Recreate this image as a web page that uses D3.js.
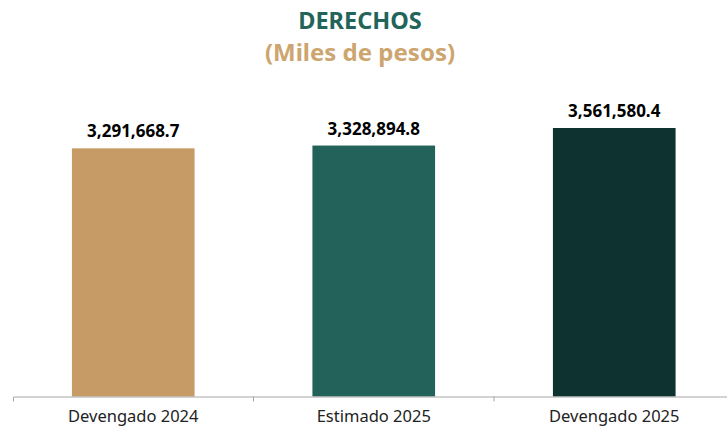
<!DOCTYPE html>
<html>
<head>
<meta charset="utf-8">
<script src="https://cdn.jsdelivr.net/npm/d3@7"></script>
<style>
  body { margin: 0; background: #fff; }
  svg { display: block; font-family: 'Noto Sans', sans-serif; }
</style>
</head>
<body>
<script>
// data
let categories = ['Devengado 2024', 'Estimado 2025', 'Devengado 2025'];
let values = [3291668.7, 3328894.8, 3561580.4];
let colors = ['#C69B65', '#22625A', '#0D3230'];

let width = 727, height = 429;
let baseline = 396.5;

let svg = d3.select('body').append('svg')
    .attr('width', width)
    .attr('height', height);

// scales
let x = d3.scaleBand()
    .domain(categories)
    .range([13, 734.5])
    .paddingInner(0.49)
    .paddingOuter(0.245);

let y = d3.scaleLinear()
    .domain([0, 3561580.4])
    .range([baseline, 128]);

let fmt = d3.format(',.1f');

// title
svg.append('text')
    .attr('x', 360).attr('y', 28.5)
    .attr('text-anchor', 'middle')
    .attr('font-size', '23.5px').attr('font-weight', 'bold')
    .attr('fill', '#22635A')
    .text('DERECHOS');

svg.append('text')
    .attr('x', 360).attr('y', 61)
    .attr('text-anchor', 'middle')
    .attr('font-size', '24px').attr('font-weight', 'bold')
    .attr('fill', '#CDA56F')
    .text('(Miles de pesos)');

// bars
svg.selectAll('rect.bar')
    .data(values)
    .enter().append('rect')
    .attr('class', 'bar')
    .attr('x', (d, i) => x(categories[i]))
    .attr('y', d => y(d))
    .attr('width', x.bandwidth())
    .attr('height', d => baseline - y(d))
    .attr('fill', (d, i) => colors[i]);

// value labels
svg.selectAll('text.val')
    .data(values)
    .enter().append('text')
    .attr('class', 'val')
    .attr('x', (d, i) => x(categories[i]) + x.bandwidth() / 2)
    .attr('y', d => y(d) - 11)
    .attr('text-anchor', 'middle')
    .attr('font-size', '17px').attr('font-weight', 'bold')
    .attr('fill', '#000')
    .text(d => fmt(d));

// axis
let axis = svg.append('g')
    .attr('transform', `translate(0,${baseline})`)
    .call(d3.axisBottom(x).tickSize(0).tickSizeOuter(5).tickPadding(0));

axis.select('.domain').attr('stroke', '#A6A6A6').attr('stroke-width', 1);
axis.selectAll('.tick text')
    .attr('y', 20)
    .attr('dy', '0.35em')
    .attr('font-size', '16.5px')
    .attr('font-family', "'Noto Sans', sans-serif")
    .attr('fill', '#222');

// ticks between bands
let step = x.step();
svg.selectAll('line.sep')
    .data(categories.slice(1))
    .enter().append('line')
    .attr('class', 'sep')
    .attr('x1', d => x(d) - step * x.paddingInner() / 2)
    .attr('x2', d => x(d) - step * x.paddingInner() / 2)
    .attr('y1', baseline)
    .attr('y2', baseline + 5)
    .attr('stroke', '#A6A6A6');
</script>
</body>
</html>
